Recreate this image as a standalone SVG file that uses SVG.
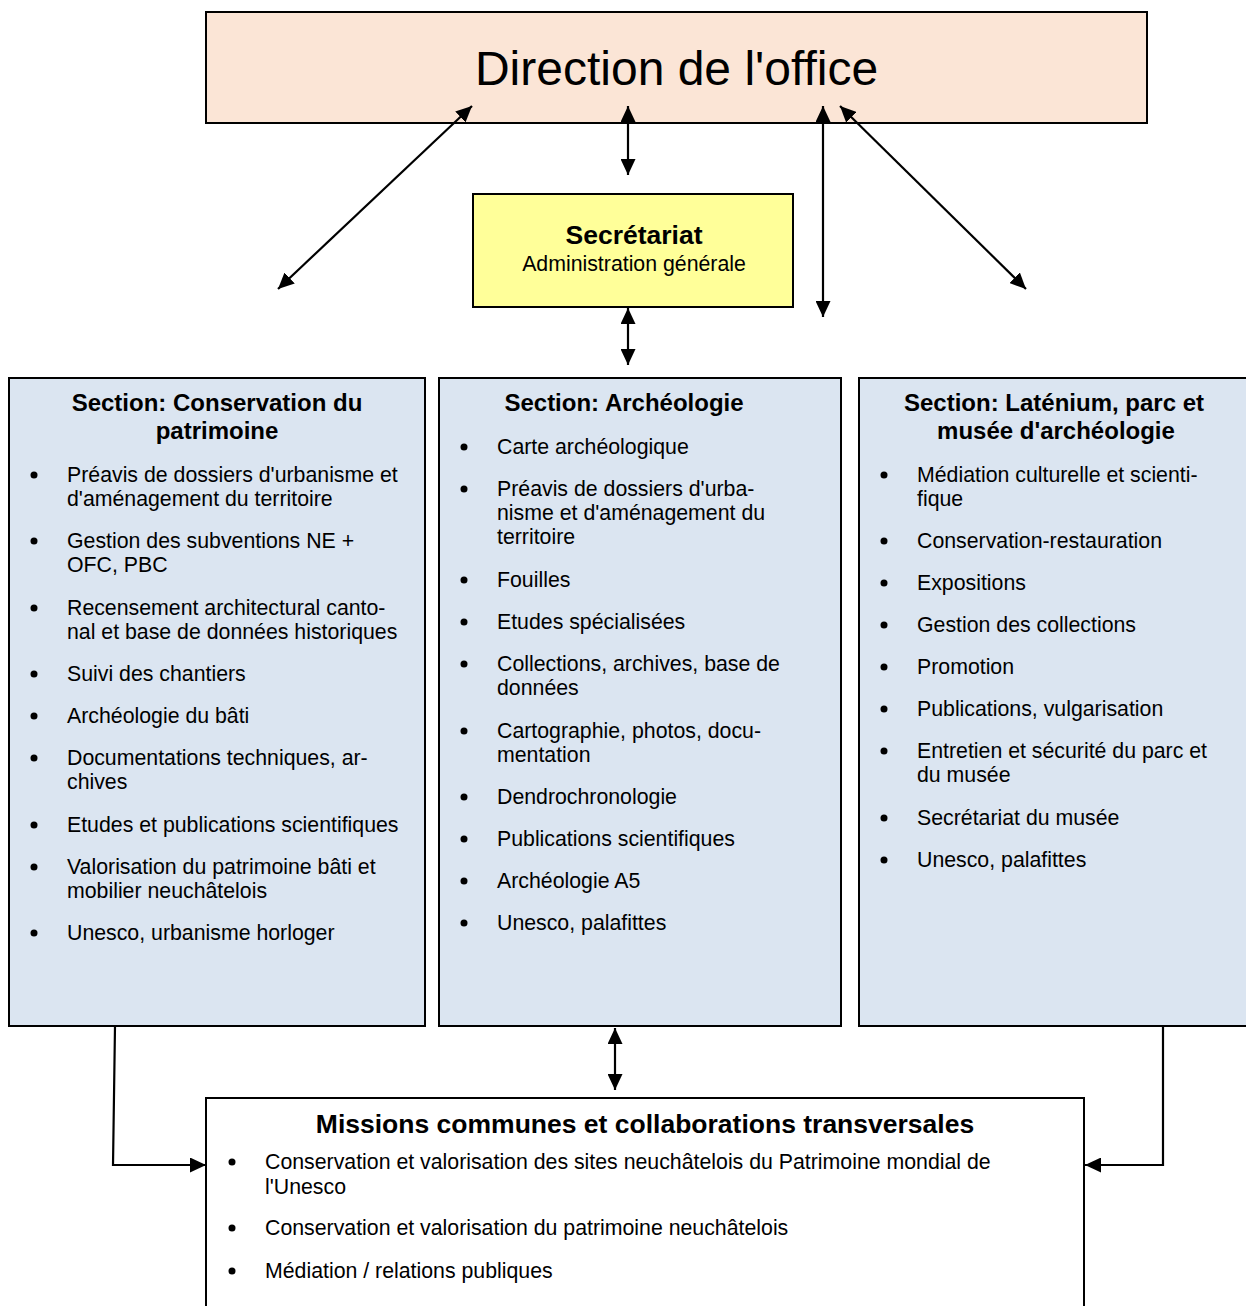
<svg xmlns="http://www.w3.org/2000/svg" width="1246" height="1306" viewBox="0 0 1246 1306">
<style>
text{font-family:"Liberation Sans",Arial,sans-serif;fill:#000}
.box{stroke:#000;stroke-width:2}
.t{font-size:21.3px}
.h{font-size:24px;font-weight:bold;text-anchor:middle}
.c{stroke:#000;stroke-width:2.2;fill:none}
.a{marker-start:url(#ah);marker-end:url(#ah)}
.e{marker-end:url(#ah)}
</style>
<defs>
<marker id="ah" viewBox="0 0 16 15" refX="16" refY="7.5" markerWidth="16" markerHeight="15" markerUnits="userSpaceOnUse" orient="auto-start-reverse">
<path d="M0,0 L16,7.5 L0,15 z" fill="#000"/>
</marker>
</defs>
<rect width="1246" height="1306" fill="#fff"/>

<g id="direction">
<rect class="box" x="206" y="12" width="941" height="111" fill="#fbe5d6" stroke="#222"/>
<text x="676.5" y="85" font-size="48" text-anchor="middle">Direction de l'office</text>
</g>

<g id="secretariat">
<rect class="box" x="473" y="194" width="320" height="113" fill="#ffff99"/>
<text x="634" y="244" font-size="26.5" font-weight="bold" text-anchor="middle">Secrétariat</text>
<text x="634" y="271" font-size="21.3" text-anchor="middle">Administration générale</text>
</g>

<g id="section-conservation">
<rect class="box" x="9" y="378" width="416" height="648" fill="#dbe5f1"/>
<text class="h" x="217" y="411">Section: Conservation du</text>
<text class="h" x="217" y="439">patrimoine</text>
<g fill="#000">
<circle cx="34" cy="475" r="3.5"/><circle cx="34" cy="541" r="3.5"/><circle cx="34" cy="608" r="3.5"/><circle cx="34" cy="674" r="3.5"/><circle cx="34" cy="716" r="3.5"/><circle cx="34" cy="758" r="3.5"/><circle cx="34" cy="825" r="3.5"/><circle cx="34" cy="867" r="3.5"/><circle cx="34" cy="933" r="3.5"/>
</g>
<text class="t" x="67" y="482">Préavis de dossiers d'urbanisme et</text>
<text class="t" x="67" y="506">d'aménagement du territoire</text>
<text class="t" x="67" y="548">Gestion des subventions NE +</text>
<text class="t" x="67" y="572">OFC, PBC</text>
<text class="t" x="67" y="615">Recensement architectural canto-</text>
<text class="t" x="67" y="639">nal et base de données historiques</text>
<text class="t" x="67" y="681">Suivi des chantiers</text>
<text class="t" x="67" y="723">Archéologie du bâti</text>
<text class="t" x="67" y="765">Documentations techniques, ar-</text>
<text class="t" x="67" y="789">chives</text>
<text class="t" x="67" y="832">Etudes et publications scientifiques</text>
<text class="t" x="67" y="874">Valorisation du patrimoine bâti et</text>
<text class="t" x="67" y="898">mobilier neuchâtelois</text>
<text class="t" x="67" y="940">Unesco, urbanisme horloger</text>
</g>

<g id="section-archeologie">
<rect class="box" x="439" y="378" width="402" height="648" fill="#dbe5f1"/>
<text class="h" x="624" y="411">Section: Archéologie</text>
<g fill="#000">
<circle cx="464" cy="447" r="3.5"/><circle cx="464" cy="489" r="3.5"/><circle cx="464" cy="580" r="3.5"/><circle cx="464" cy="622" r="3.5"/><circle cx="464" cy="664" r="3.5"/><circle cx="464" cy="731" r="3.5"/><circle cx="464" cy="797" r="3.5"/><circle cx="464" cy="839" r="3.5"/><circle cx="464" cy="881" r="3.5"/><circle cx="464" cy="923" r="3.5"/>
</g>
<text class="t" x="497" y="454">Carte archéologique</text>
<text class="t" x="497" y="496">Préavis de dossiers d'urba-</text>
<text class="t" x="497" y="520">nisme et d'aménagement du</text>
<text class="t" x="497" y="544">territoire</text>
<text class="t" x="497" y="587">Fouilles</text>
<text class="t" x="497" y="629">Etudes spécialisées</text>
<text class="t" x="497" y="671">Collections, archives, base de</text>
<text class="t" x="497" y="695">données</text>
<text class="t" x="497" y="738">Cartographie, photos, docu-</text>
<text class="t" x="497" y="762">mentation</text>
<text class="t" x="497" y="804">Dendrochronologie</text>
<text class="t" x="497" y="846">Publications scientifiques</text>
<text class="t" x="497" y="888">Archéologie A5</text>
<text class="t" x="497" y="930">Unesco, palafittes</text>
</g>

<g id="section-latenium">
<rect class="box" x="859" y="378" width="400" height="648" fill="#dbe5f1"/>
<text class="h" x="1054" y="411">Section: Laténium, parc et</text>
<text class="h" x="1056" y="439">musée d'archéologie</text>
<g fill="#000">
<circle cx="884" cy="475" r="3.5"/><circle cx="884" cy="541" r="3.5"/><circle cx="884" cy="583" r="3.5"/><circle cx="884" cy="625" r="3.5"/><circle cx="884" cy="667" r="3.5"/><circle cx="884" cy="709" r="3.5"/><circle cx="884" cy="751" r="3.5"/><circle cx="884" cy="818" r="3.5"/><circle cx="884" cy="860" r="3.5"/>
</g>
<text class="t" x="917" y="482">Médiation culturelle et scienti-</text>
<text class="t" x="917" y="506">fique</text>
<text class="t" x="917" y="548">Conservation-restauration</text>
<text class="t" x="917" y="590">Expositions</text>
<text class="t" x="917" y="632">Gestion des collections</text>
<text class="t" x="917" y="674">Promotion</text>
<text class="t" x="917" y="716">Publications, vulgarisation</text>
<text class="t" x="917" y="758">Entretien et sécurité du parc et</text>
<text class="t" x="917" y="782">du musée</text>
<text class="t" x="917" y="825">Secrétariat du musée</text>
<text class="t" x="917" y="867">Unesco, palafittes</text>
</g>

<g id="missions">
<rect class="box" x="206" y="1098" width="878" height="220" fill="#fff"/>
<text x="645" y="1133" font-size="26.5" font-weight="bold" text-anchor="middle">Missions communes et collaborations transversales</text>
<g fill="#000">
<circle cx="232" cy="1162" r="3.5"/><circle cx="232" cy="1228" r="3.5"/><circle cx="232" cy="1271" r="3.5"/>
</g>
<text class="t" x="265" y="1169">Conservation et valorisation des sites neuchâtelois du Patrimoine mondial de</text>
<text class="t" x="265" y="1194">l'Unesco</text>
<text class="t" x="265" y="1235">Conservation et valorisation du patrimoine neuchâtelois</text>
<text class="t" x="265" y="1278">Médiation / relations publiques</text>
</g>

<g id="connectors">
<line class="c a" x1="472" y1="106" x2="278" y2="289"/>
<line class="c a" x1="628" y1="106" x2="628" y2="175"/>
<line class="c a" x1="823" y1="106" x2="823" y2="317"/>
<line class="c a" x1="840" y1="106" x2="1026" y2="289"/>
<line class="c a" x1="628" y1="308" x2="628" y2="365"/>
<line class="c a" x1="615" y1="1028" x2="615" y2="1090"/>
<polyline class="c e" points="115,1026 113,1165 206,1165"/>
<polyline class="c e" points="1163,1026 1163,1165 1085,1165"/>
</g>
</svg>
